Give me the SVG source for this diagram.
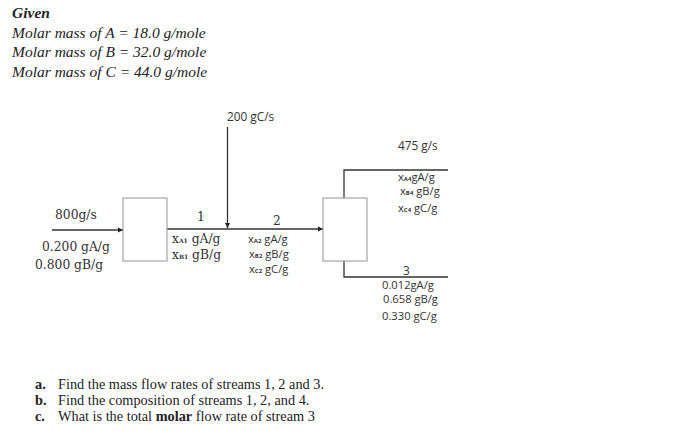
<svg xmlns="http://www.w3.org/2000/svg" width="700" height="431" viewBox="0 0 700 431">
<defs>
<style>
.given{font-family:"Liberation Serif",serif;font-style:italic;font-size:15.5px;fill:#222}
.q{font-family:"Liberation Serif",serif;font-size:14.3px;fill:#222}
.cam{font-family:"DejaVu Serif",serif;font-size:12.3px;fill:#333}
.cal{font-family:"Open Sans","Liberation Sans",sans-serif;font-size:11.8px;fill:#333}
.tight{font-size:11.2px}
.sub{font-size:6px;font-weight:bold}
.box{fill:#fff;stroke:#a6a6a6;stroke-width:1.2}
.ln{fill:none;stroke:#333;stroke-width:1.3}
</style>
<marker id="ah" markerWidth="6" markerHeight="6" refX="5" refY="3" orient="auto" markerUnits="userSpaceOnUse">
<path d="M0,0.5 L5,3 L0,5.5 Z" fill="#222"/>
</marker>
</defs>
<rect width="700" height="431" fill="#fff"/>
<g id="given">
<text class="given" x="12" y="18" font-weight="bold">Given</text>
<text class="given" x="12" y="38">Molar mass of A = 18.0 g/mole</text>
<text class="given" x="12" y="57">Molar mass of B = 32.0 g/mole</text>
<text class="given" x="12" y="77">Molar mass of C = 44.0 g/mole</text>
</g>
<g id="connectors">
<line class="ln" x1="52" y1="230" x2="123" y2="230" marker-end="url(#ah)"/>
<line class="ln" x1="167" y1="229" x2="323" y2="229" marker-end="url(#ah)"/>
<line class="ln" x1="227.5" y1="127" x2="227.5" y2="228" marker-end="url(#ah)"/>
<polyline class="ln" points="344,198 344,170 448,170"/>
<polyline class="ln" points="344,261 344,277 448,277"/>
</g>
<g id="unit1">
<rect class="box" x="123" y="198" width="44" height="63"/>
</g>
<g id="unit2">
<rect class="box" x="323" y="198" width="44" height="63"/>
</g>
<g id="feed-labels">
<text class="cam" x="55" y="219">800g/s</text>
<text class="cam" x="42" y="251">0.200 gA/g</text>
<text class="cam" x="35" y="269">0.800 gB/g</text>
</g>
<g id="stream1-labels">
<text class="cam" x="197" y="221" font-size="9">1</text>
<text class="cam" x="172" y="243">x<tspan class="sub">A1</tspan> gA/g</text>
<text class="cam" x="172" y="259">x<tspan class="sub">B1</tspan> gB/g</text>
</g>
<g id="c-feed-label">
<text class="cal" x="227" y="121">200 gC/s</text>
</g>
<g id="stream2-labels">
<text class="cam" x="273" y="225" font-size="9">2</text>
<text class="cal tight" x="248" y="243">x<tspan class="sub">A2</tspan> gA/g</text>
<text class="cal tight" x="249" y="258">x<tspan class="sub">B2</tspan> gB/g</text>
<text class="cal tight" x="249" y="273">x<tspan class="sub">C2</tspan> gC/g</text>
</g>
<g id="stream4-labels">
<text class="cal" x="398" y="150">475 g/s</text>
<text class="cal tight" x="398" y="181">x<tspan class="sub">A4</tspan>gA/g</text>
<text class="cal tight" x="400" y="195">x<tspan class="sub">B4</tspan> gB/g</text>
<text class="cal tight" x="398" y="212">x<tspan class="sub">C4</tspan> gC/g</text>
</g>
<g id="stream3-labels">
<text class="cal" x="403" y="275">3</text>
<text class="cal tight" x="382" y="289">0.012gA/g</text>
<text class="cal tight" x="383" y="303">0.658 gB/g</text>
<text class="cal tight" x="382" y="320">0.330 gC/g</text>
</g>
<g id="questions">
<text class="q" x="35" y="389"><tspan font-weight="bold">a.</tspan><tspan x="58">Find the mass flow rates of streams 1, 2 and 3.</tspan></text>
<text class="q" x="35" y="405"><tspan font-weight="bold">b.</tspan><tspan x="58">Find the composition of streams 1, 2, and 4.</tspan></text>
<text class="q" x="35" y="421"><tspan font-weight="bold">c.</tspan><tspan x="58">What is the total <tspan font-weight="bold">molar</tspan> flow rate of stream 3</tspan></text>
</g>
</svg>
